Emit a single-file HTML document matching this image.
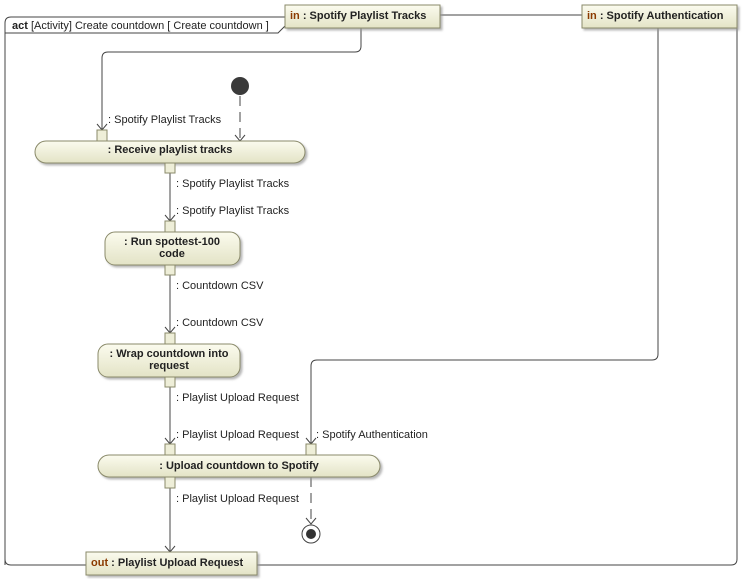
<!DOCTYPE html>
<html><head><style>
body{margin:0;background:#fff;}
svg text{font-family:"Liberation Sans",sans-serif;font-size:11px;fill:#222;}
.b{font-weight:bold;}
</style></head><body>
<svg width="742" height="579" viewBox="0 0 742 579" xmlns="http://www.w3.org/2000/svg">
<defs>
<linearGradient id="g" x1="0" y1="0" x2="0" y2="1"><stop offset="0" stop-color="#fbfbee"/><stop offset="1" stop-color="#e3e3c6"/></linearGradient>
<filter id="s" x="-5%" y="-20%" width="115%" height="160%"><feDropShadow dx="2" dy="2" stdDeviation="1" flood-color="#999" flood-opacity="0.7"/></filter>
</defs>
<g fill="none" stroke="#444" stroke-width="1">
<path d="M5 565 V23 Q5 17 11 17 H285 M440 15 H582 M737 15 V559 Q737 565 731 565 H257 M86 565 H11 Q5 565 5 559"/>
<path d="M5 33 H278 L285 26"/>
<path d="M361 28 V46 Q361 52 355 52 H108 Q102 52 102 58 V130"/>
<path d="M658 28 V354 Q658 360 652 360 H317 Q311 360 311 366 V444"/>
<path d="M170 173 V221 M170 275 V333 M170 387 V444 M170 488 V552"/>
<path d="M240 96 V141 M311 477 V524" stroke-dasharray="10,6"/>
<path d="M97 124 L102 130 L107 124 M235 135 L240 141 L245 135 M165 215 L170 221 L175 215 M165 327 L170 333 L175 327 M165 438 L170 444 L175 438 M306 438 L311 444 L316 438 M306 518 L311 524 L316 518 M165 546 L170 552 L175 546"/>
</g>
<circle cx="240" cy="86" r="9" fill="#3a3a3a"/>
<circle cx="311" cy="534" r="9" fill="#fff" stroke="#444"/>
<circle cx="311" cy="534" r="5" fill="#333"/>
<g fill="url(#g)" stroke="#8a8a6a" filter="url(#s)">
<rect x="285" y="5" width="155" height="23"/>
<rect x="582" y="5" width="155" height="23"/>
<rect x="86" y="552" width="171" height="23"/>
<rect x="35" y="141" width="270" height="22" rx="11"/>
<rect x="105" y="232" width="135" height="33" rx="10"/>
<rect x="98" y="344" width="142" height="33" rx="10"/>
<rect x="98" y="455" width="282" height="22" rx="11"/>
</g>
<g fill="#eeeed8" stroke="#8a8a6a">
<rect x="97" y="130" width="10" height="11"/><rect x="165" y="163" width="10" height="10"/>
<rect x="165" y="221" width="10" height="11"/><rect x="165" y="265" width="10" height="10"/>
<rect x="165" y="333" width="10" height="11"/><rect x="165" y="377" width="10" height="10"/>
<rect x="165" y="444" width="10" height="11"/><rect x="306" y="444" width="10" height="11"/>
<rect x="165" y="477" width="10" height="11"/>
</g>
<text x="12" y="29"><tspan class="b">act</tspan> [Activity] Create countdown [ Create countdown ]</text>
<text x="290" y="19" class="b"><tspan fill="#8b3a00">in</tspan> : Spotify Playlist Tracks</text>
<text x="587" y="19" class="b"><tspan fill="#8b3a00">in</tspan> : Spotify Authentication</text>
<text x="91" y="566" class="b"><tspan fill="#8b3a00">out</tspan> : Playlist Upload Request</text>
<text x="170" y="153" class="b" text-anchor="middle">: Receive playlist tracks</text>
<text x="172" y="245" class="b" text-anchor="middle">: Run spottest-100</text>
<text x="172" y="257" class="b" text-anchor="middle">code</text>
<text x="169" y="357" class="b" text-anchor="middle">: Wrap countdown into</text>
<text x="169" y="369" class="b" text-anchor="middle">request</text>
<text x="239" y="469" class="b" text-anchor="middle">: Upload countdown to Spotify</text>
<text x="108" y="123">: Spotify Playlist Tracks</text>
<text x="176" y="187">: Spotify Playlist Tracks</text>
<text x="176" y="214">: Spotify Playlist Tracks</text>
<text x="176" y="289">: Countdown CSV</text>
<text x="176" y="326">: Countdown CSV</text>
<text x="176" y="401">: Playlist Upload Request</text>
<text x="176" y="438">: Playlist Upload Request</text>
<text x="316" y="438">: Spotify Authentication</text>
<text x="176" y="502">: Playlist Upload Request</text>
</svg>
</body></html>
